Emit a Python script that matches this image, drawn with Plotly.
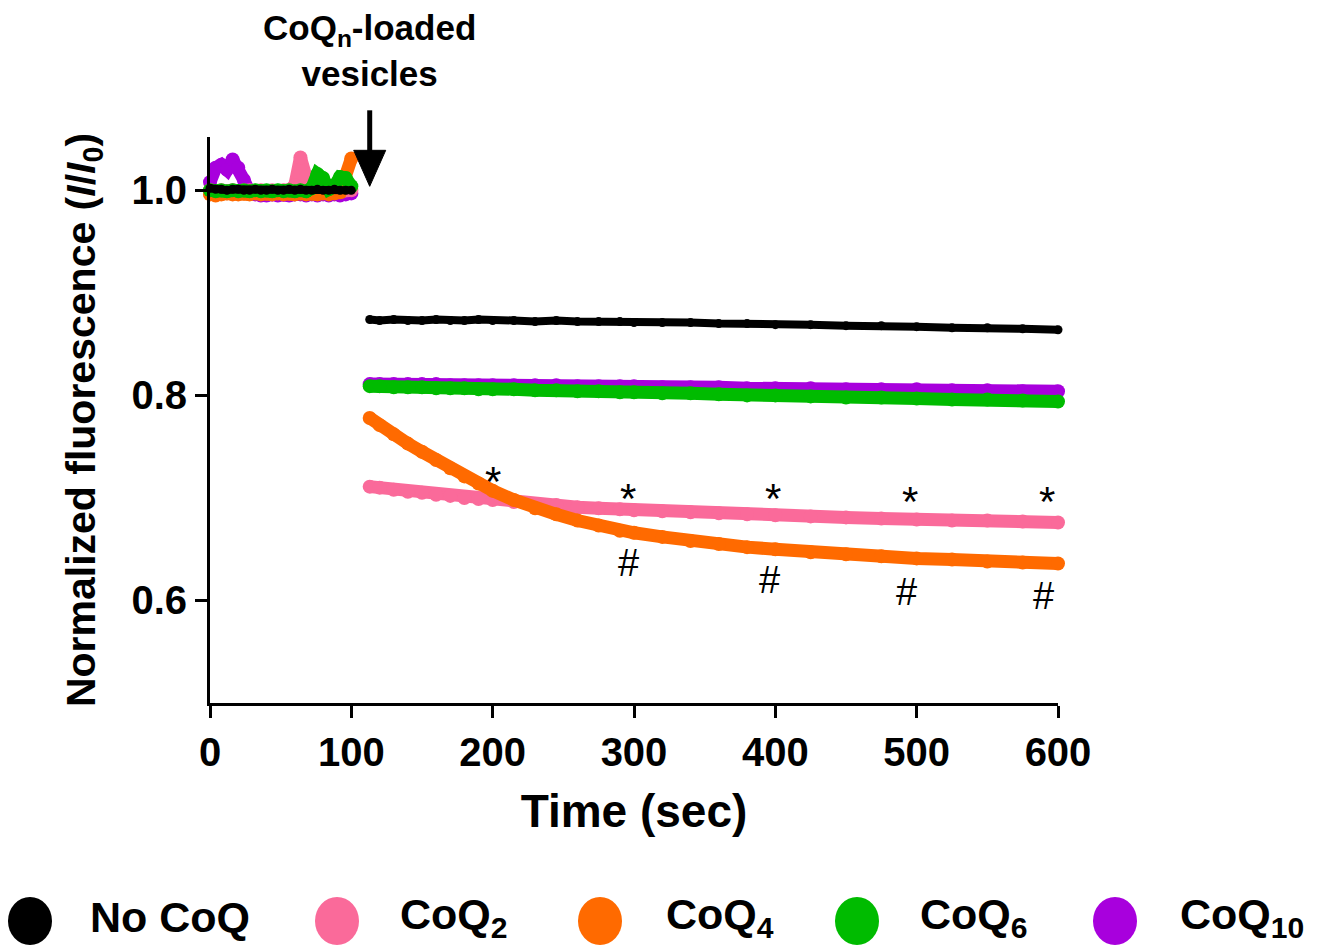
import plotly.graph_objects as go

# ---------------- data ----------------
t_pre = [0, 4, 8, 12, 16, 20, 24, 28, 32, 36, 40, 44, 48, 52, 56, 60, 64, 68, 72, 76, 80, 84, 88, 92, 96, 100]
black_pre = [1.002, 1.001, 1.001, 1.000, 1.001, 1.001, 1.000, 1.000, 1.001, 1.000, 1.000, 1.001, 1.000,
             1.000, 1.001, 1.000, 1.001, 1.000, 1.000, 1.001, 1.000, 1.000, 1.001, 1.000, 1.000, 1.000]
pink_pre = [1.000, 0.999, 1.000, 0.999, 1.000, 0.999, 1.000, 1.000, 0.999, 1.000, 0.999, 1.000, 0.999,
            1.000, 1.000, 1.005, 1.032, 1.013, 1.000, 0.999, 1.000, 0.999, 1.000, 0.999, 1.000, 1.000]
orange_pre = [0.996, 0.995, 0.996, 0.997, 0.996, 0.996, 0.997, 0.996, 0.997, 0.996, 0.997, 0.996, 0.997,
              0.996, 0.997, 0.996, 0.997, 0.996, 0.997, 0.996, 0.997, 0.996, 0.997, 0.998, 1.012, 1.031]
green_pre = [1.000, 0.999, 1.000, 0.999, 1.000, 0.999, 1.000, 0.999, 1.000, 0.999, 1.000, 0.999, 1.000,
             0.999, 1.000, 0.999, 1.000, 0.999, 1.002, 1.016, 1.012, 1.001, 1.004, 1.013, 1.012, 1.004]
purple_pre = [1.008, 1.022, 1.025, 1.020, 1.030, 1.022, 1.010, 0.998, 0.996, 0.995, 0.995, 0.996, 0.995,
              0.996, 0.995, 0.996, 0.996, 0.995, 0.996, 0.995, 0.996, 0.995, 0.996, 0.995, 0.996, 0.997]

t_post = [113, 120, 130, 140, 150, 160, 170, 180, 190, 200, 215, 230, 245, 260, 275, 290, 300,
          320, 340, 360, 380, 400, 425, 450, 475, 500, 525, 550, 575, 600]
black_post = [0.874, 0.873, 0.874, 0.873, 0.873, 0.874, 0.873, 0.873, 0.874, 0.873, 0.873, 0.872, 0.873,
              0.872, 0.872, 0.872, 0.871, 0.871, 0.871, 0.870, 0.870, 0.869, 0.869, 0.868, 0.868, 0.867,
              0.866, 0.866, 0.865, 0.864]
pink_post = [0.711, 0.710, 0.708, 0.706, 0.705, 0.703, 0.702, 0.700, 0.699, 0.698, 0.696, 0.694, 0.693,
             0.691, 0.690, 0.689, 0.688, 0.687, 0.686, 0.685, 0.684, 0.683, 0.682, 0.681, 0.680, 0.679,
             0.678, 0.678, 0.677, 0.676]
orange_post = [0.778, 0.771, 0.762, 0.753, 0.745, 0.737, 0.729, 0.721, 0.714, 0.707, 0.698, 0.690, 0.684,
               0.678, 0.673, 0.668, 0.666, 0.662, 0.658, 0.655, 0.652, 0.650, 0.647, 0.645, 0.643, 0.641,
               0.640, 0.638, 0.637, 0.636]
green_post = [0.809, 0.809, 0.808, 0.808, 0.808, 0.807, 0.807, 0.807, 0.806, 0.806, 0.806, 0.805, 0.805,
              0.804, 0.804, 0.803, 0.803, 0.802, 0.802, 0.801, 0.800, 0.800, 0.799, 0.798, 0.798, 0.797,
              0.796, 0.796, 0.795, 0.794]
purple_post = [0.811, 0.811, 0.811, 0.811, 0.811, 0.811, 0.810, 0.810, 0.810, 0.810, 0.810, 0.810, 0.810,
               0.809, 0.809, 0.809, 0.809, 0.808, 0.808, 0.808, 0.807, 0.807, 0.807, 0.806, 0.806, 0.806,
               0.805, 0.805, 0.804, 0.804]

series_names = ["No CoQ", "CoQ<sub>2</sub>", "CoQ<sub>4</sub>", "CoQ<sub>6</sub>", "CoQ<sub>10</sub>"]
series_colors = ["#000000", "#FA6A9A", "#FF6A00", "#00BB00", "#A800DD"]

star_x = [200, 296, 398, 495, 592]
star_y = [0.716, 0.699, 0.699, 0.697, 0.697]
hash_x = [296, 396, 493, 590]
hash_y = [0.637, 0.620, 0.608, 0.604]

x_ticks = [0, 100, 200, 300, 400, 500, 600]
y_ticks = [0.6, 0.8, 1.0]
y_tick_labels = ["0.6", "0.8", "1.0"]

injection_time = 113
X_RANGE = [0, 600]
Y_RANGE = [0.5, 1.052]

# ---------------- figure ----------------
FONT = "Arial, Liberation Sans, sans-serif"
fig = go.Figure()

pre = {"No CoQ": black_pre, "CoQ2": pink_pre, "CoQ4": orange_pre, "CoQ6": green_pre, "CoQ10": purple_pre}
post = {"No CoQ": black_post, "CoQ2": pink_post, "CoQ4": orange_post, "CoQ6": green_post, "CoQ10": purple_post}
keys = ["No CoQ", "CoQ2", "CoQ4", "CoQ6", "CoQ10"]
widths = {"No CoQ": 8, "CoQ2": 13, "CoQ4": 13, "CoQ6": 13, "CoQ10": 13}
draw_order = ["CoQ10", "CoQ2", "CoQ4", "CoQ6", "No CoQ"]

for k in draw_order:
    i = keys.index(k)
    col = series_colors[i]
    for tx, vals in ((t_pre, pre[k]), (t_post, post[k])):
        fig.add_trace(go.Scatter(
            x=tx, y=vals, mode="lines+markers", name=series_names[i], showlegend=False,
            line=dict(color=col, width=widths[k]),
            marker=dict(color=col, size=widths[k] + 1),
            cliponaxis=False, hoverinfo="skip"))

# significance marks
for sx, sy in zip(star_x, star_y):
    fig.add_annotation(x=sx, y=sy, text="*", showarrow=False, xanchor="center", yanchor="middle",
                       font=dict(family=FONT, size=42, color="#000"))
for hx, hy in zip(hash_x, hash_y):
    fig.add_annotation(x=hx, y=hy, text="#", showarrow=False, xanchor="center", yanchor="middle",
                       font=dict(family=FONT, size=38, color="#000"))

# injection arrow (shaft + head as pixel-sized shapes in paper refs, so they are not clipped)
ax_paper = (injection_time - X_RANGE[0]) / (X_RANGE[1] - X_RANGE[0])
ay_paper = (1.0 - Y_RANGE[0]) / (Y_RANGE[1] - Y_RANGE[0])
fig.add_shape(type="path", xref="paper", yref="paper", xsizemode="pixel", ysizemode="pixel",
              xanchor=ax_paper, yanchor=ay_paper, path="M -2.5 38 L 2.5 38 L 2.5 80 L -2.5 80 Z",
              fillcolor="#000", line=dict(color="#000", width=0))
fig.add_shape(type="path", xref="paper", yref="paper", xsizemode="pixel", ysizemode="pixel",
              xanchor=ax_paper, yanchor=ay_paper, path="M -16 40 L 16 40 L 0 4 Z",
              fillcolor="#000", line=dict(color="#000", width=1))
fig.add_annotation(x=injection_time, xref="x", y=1.152, yref="paper",
                   text="CoQ<sub>n</sub>-loaded<br>vesicles",
                   showarrow=False, xanchor="center", yanchor="middle",
                   font=dict(family=FONT, size=35, color="#000", weight="bold"))

# custom legend (large round symbols)
leg_sym_px = [30, 337, 600, 857, 1115]
leg_txt_px = [88, 398, 664, 918, 1178]
L, PW, T, PH = 210, 848, 137, 566
leg_y_sym = (703 - 921) / PH
leg_y_txt = (703 - 917) / PH
for i in range(5):
    xs = (leg_sym_px[i] - L) / PW
    fig.add_shape(type="circle", xref="paper", yref="paper", xsizemode="pixel", ysizemode="pixel",
                  xanchor=xs, yanchor=leg_y_sym, x0=-22, x1=22, y0=-24, y1=24,
                  fillcolor=series_colors[i], line=dict(width=0))
    fig.add_annotation(x=(leg_txt_px[i] - L) / PW, y=leg_y_txt, xref="paper", yref="paper",
                       text=series_names[i], showarrow=False, xanchor="left", yanchor="middle",
                       font=dict(family=FONT, size=43, color="#000", weight="bold"))

fig.update_layout(
    width=1319, height=947,
    margin=dict(l=210, r=261, t=137, b=244, autoexpand=False),
    paper_bgcolor="white", plot_bgcolor="white",
    showlegend=False,
    font=dict(family=FONT, color="#000"),
    xaxis=dict(range=X_RANGE, tickmode="array", tickvals=x_ticks,
               showline=True, linecolor="#000", linewidth=3, mirror=False,
               ticks="outside", ticklen=12, tickwidth=3, tickcolor="#000",
               showgrid=False, zeroline=False,
               tickfont=dict(family=FONT, size=40, color="#000", weight="bold"),
               title=dict(text="Time (sec)", standoff=22,
                          font=dict(family=FONT, size=46, color="#000", weight="bold"))),
    yaxis=dict(range=Y_RANGE, tickmode="array", tickvals=y_ticks, ticktext=y_tick_labels,
               showline=True, linecolor="#000", linewidth=3,
               ticks="outside", ticklen=12, tickwidth=3, tickcolor="#000",
               showgrid=False, zeroline=False,
               tickfont=dict(family=FONT, size=40, color="#000", weight="bold"),
               title=dict(text="Normalized fluorescence (<i>I</i>/<i>I</i><sub>0</sub>)", standoff=24,
                          font=dict(family=FONT, size=41, color="#000", weight="bold"))),
)

fig.write_html("out.html", config={"displayModeBar": False},
               post_script="document.body.style.margin='0';document.body.style.overflow='hidden';")
